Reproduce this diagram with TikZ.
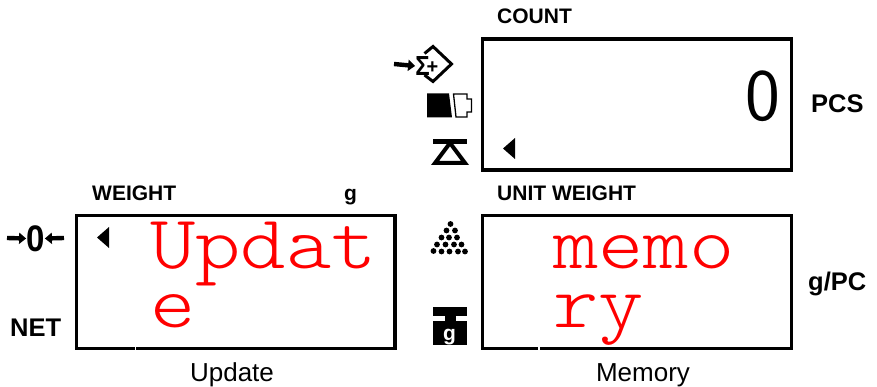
\documentclass[tikz,border=0pt]{standalone}
\usepackage{fontspec}
\setmainfont{Liberation Sans}
\newfontfamily\lcdfont{Latin Modern Mono Light}
\usetikzlibrary{arrows.meta}
\newcommand{\fsize}[1]{\fontsize{#1}{#1}\selectfont}
\tikzset{
    panel/.style={draw, line width=3.2pt, outer sep=0pt, inner sep=0pt, anchor=north west},
    tag/.style={font=\fsize{21}\bfseries, inner sep=0pt, anchor=base west},
    unitname/.style={font=\fsize{25.5}\bfseries, inner sep=0pt, anchor=base west},
    caption/.style={font=\fsize{26}, inner sep=0pt, anchor=base},
    lcd/.style={font=\fsize{76}\lcdfont, text=red, inner sep=0pt, anchor=base west, xscale=1.135},
    marker/.style={fill=black, draw=none},
    gap/.style={white, line width=1.6pt},
    bigarrow/.style={line width=4.4pt, -{Stealth[length=7pt, width=11pt, inset=0pt]}}
}
\begin{document}
\begin{tikzpicture}[x=1pt, y=-1pt]
    \useasboundingbox (0,0) rectangle (877,387);

    % Display panels
    \node [panel, minimum width=309pt, minimum height=131pt] (countbox) at (482.5,39) {};
    \node [panel, minimum width=318.5pt, minimum height=133pt] (weightbox) at (76.5,215.5) {};
    \node [panel, minimum width=309pt, minimum height=133pt] (unitbox) at (482.5,215.5) {};
    \draw [gap] (135.5,346) -- (135.5,351);
    \draw [gap] (539,346) -- (539,351);

    % Labels
    \node [tag] (count) at (497,24) {COUNT};
    \node [tag] (weight) at (92,201) {WEIGHT};
    \node [tag] (gram) at (344,201) {g};
    \node [tag] (unitweight) at (497,201) {UNIT WEIGHT};
    \node [unitname] (pcs) at (811,113) {PCS};
    \node [unitname] (gpc) at (808,290) {g/PC};
    \node [unitname] (net) at (10,336) {NET};
    \node [caption] (update) at (232,381) {Update};
    \node [caption] (memory) at (643,381) {Memory};

    % Display contents
    \node [font=\fsize{74}\sffamily, inner sep=0pt, anchor=base] (zero) at (762.5,121) {0};
    \node [lcd] (updateone) at (150,268) {Updat};
    \node [lcd] (updatetwo) at (150,327) {e};
    \node [lcd] (memoryone) at (553,268) {memo};
    \node [lcd] (memorytwo) at (553,327) {ry};
    \fill [marker] (503,148.5) -- (515,138) -- (515,159) -- cycle;
    \fill [marker] (97,237.5) -- (109,227) -- (109,248) -- cycle;

    % Zero icon
    \node [font=\fsize{33}\bfseries, inner sep=0pt, yscale=1.12] (zeroicon) at (35.5,238.5) {0};
    \coordinate (zeroleft) at (7,238);
    \coordinate (zeroright) at (64,238);
    \draw [bigarrow] (zeroleft) -- (zeroicon.west);
    \draw [bigarrow] (zeroright) -- (zeroicon.east);

    % Sum icon
    \draw [line width=3pt, line join=miter] (424.5,53.5) -- (433,46.5) -- (451.5,64) -- (433,81.5) -- (424.5,75);
    \node [font=\fsize{24}\bfseries, inner sep=0pt, yscale=1.15] (sumsign) at (422.5,66) {Σ};
    \node [font=\fsize{20}\bfseries, inner sep=0pt] (plussign) at (432.5,68) {+};
    \coordinate (sumstart) at (394,64);
    \draw [bigarrow] (sumstart) -- (sumsign.west);

    % Memory icon
    \fill [marker] (427,93.5) -- (449,93.5) -- (452,117.5) -- (427,117.5) -- cycle;
    \draw [line width=1.3pt] (453.5,94) -- (467,94) -- (467,99) -- (471.5,99) -- (471.5,112) -- (467,112) -- (467,117) -- (456,117) -- cycle;

    % Balance icon
    \draw [line width=4.6pt] (433,141.5) -- (467,141.5);
    \draw [line width=4pt, line join=miter] (450,143) -- (435,163) -- (465,163) -- cycle;

    % Pieces icon
    \foreach \px/\py in {450.5/224, 446.5/230.5, 455/230.5, 441.5/237.5, 449/237.5, 457/237.5,
        437/244.5, 445.5/244.5, 454/244.5, 461.5/244.5, 433.5/251, 441.5/251.5, 449.5/251.5, 458/251.5, 465/251.5}
        \fill (\px,\py) circle (2.9pt);

    % Weight icon
    \fill [marker] (433,307) rectangle (467,316);
    \fill [marker] (445,316) rectangle (456,321);
    \fill [marker] (433,321) rectangle (467,345);
    \node [font=\fsize{21}\bfseries, text=white, inner sep=0pt, anchor=base] (gicon) at (449.5,340) {g};
\end{tikzpicture}
\end{document}
